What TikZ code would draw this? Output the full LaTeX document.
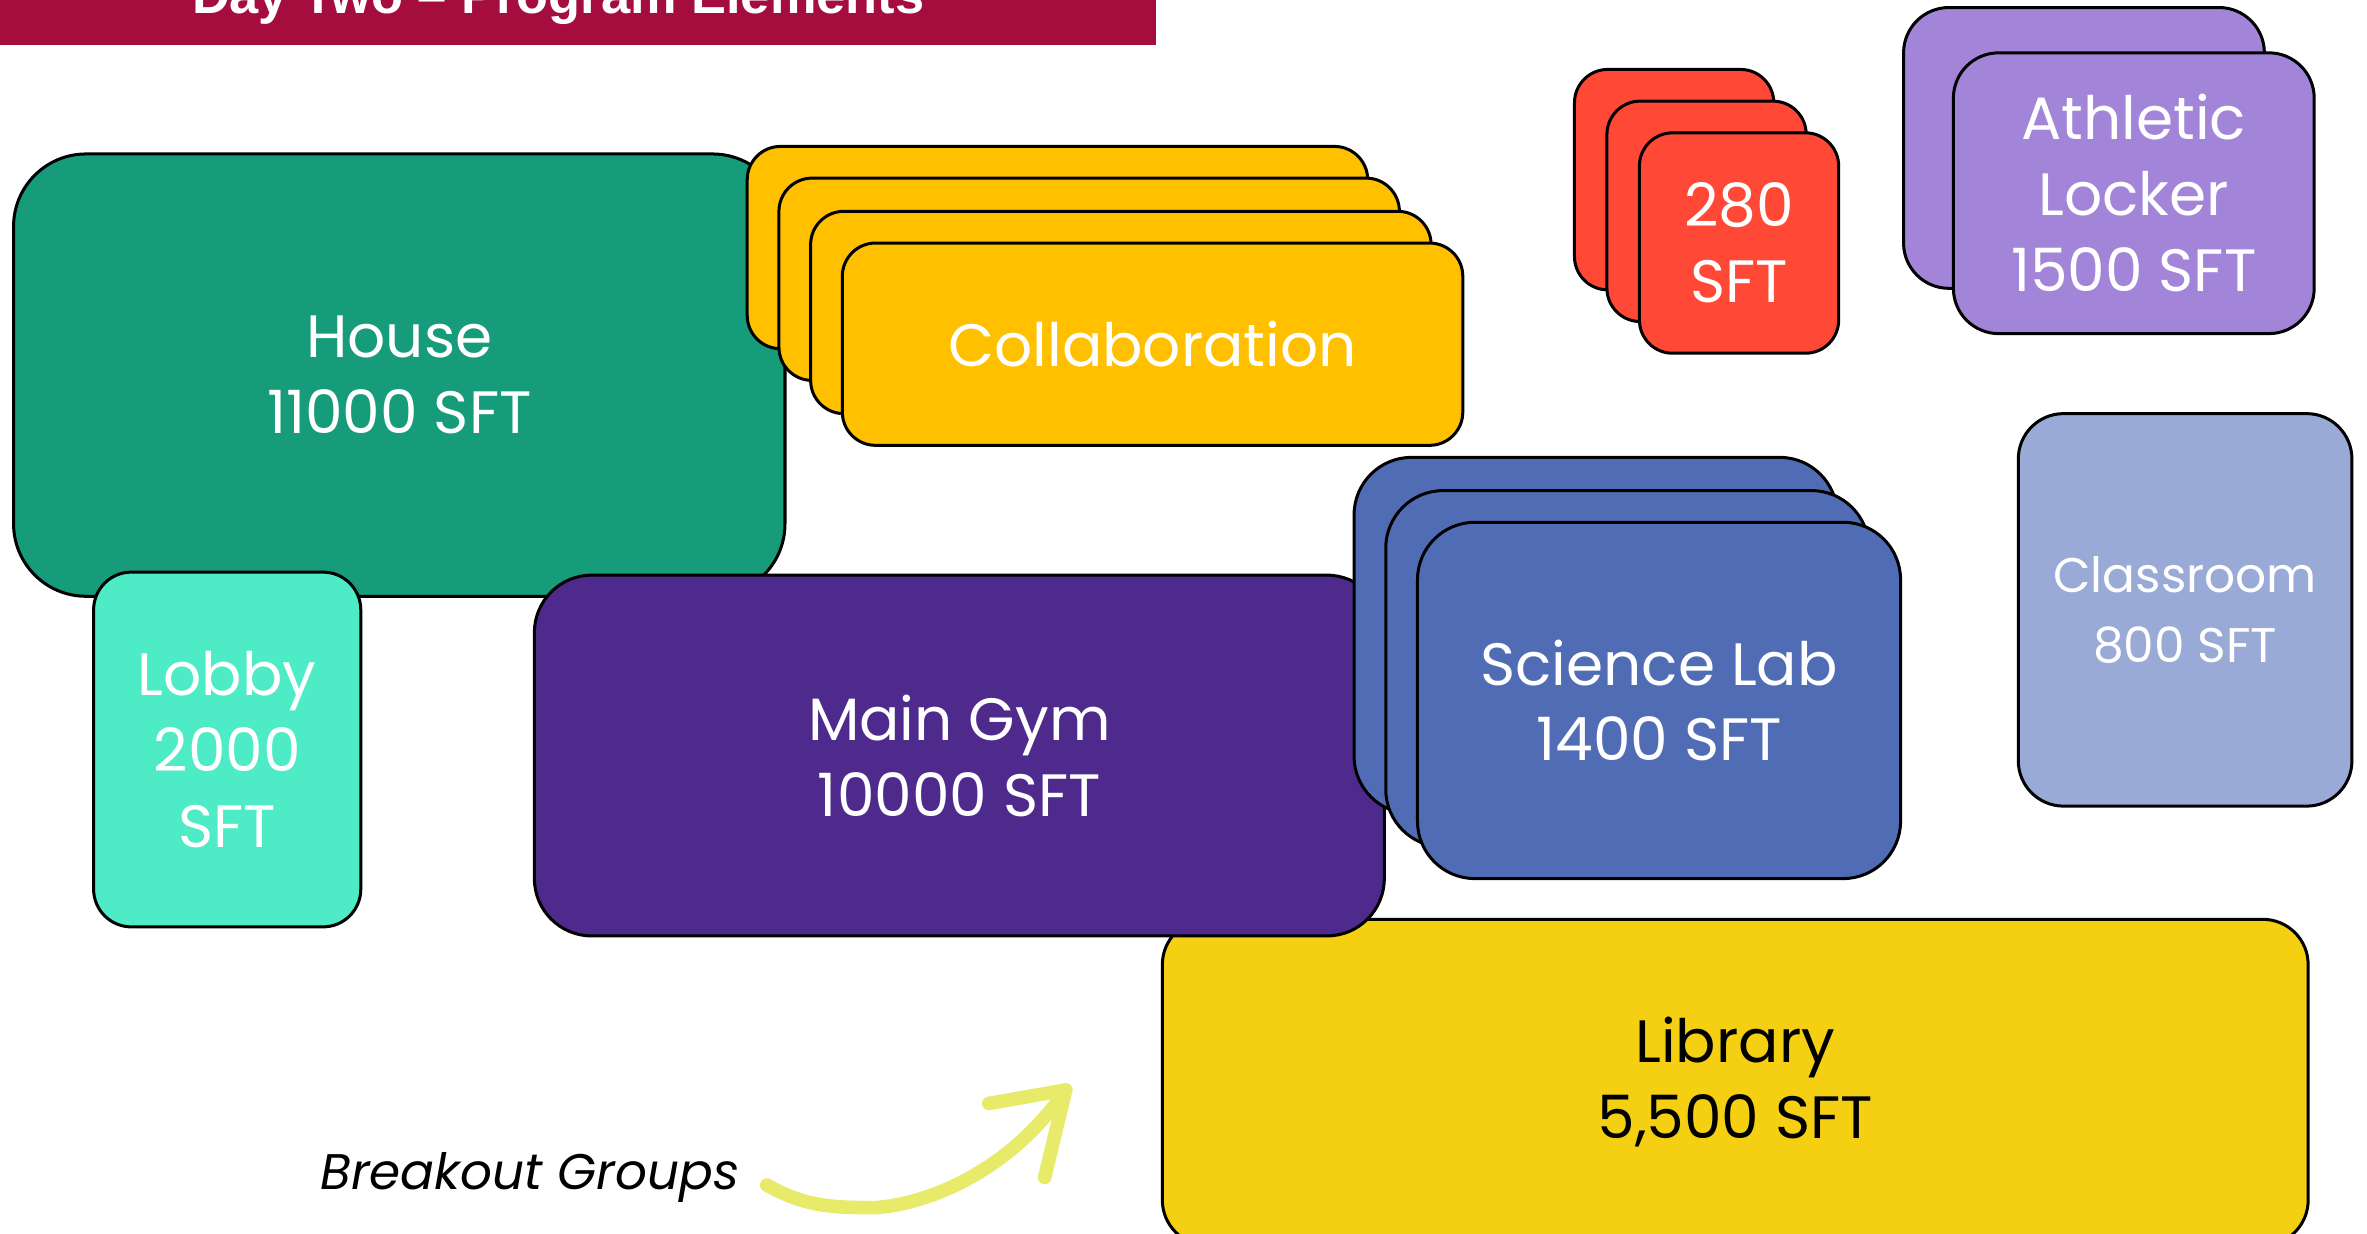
\documentclass[tikz,border=0pt]{standalone}
\usepackage{fontspec}
\setmainfont{Poppins}
\newfontfamily\titlefont{Liberation Sans}
\usetikzlibrary{calc}

\definecolor{housegreen}{HTML}{169B7B}
\definecolor{collabyellow}{HTML}{FFC000}
\definecolor{lobbyaqua}{HTML}{4DEBC6}
\definecolor{gympurple}{HTML}{4D2A8C}
\definecolor{labblue}{HTML}{4F6CB5}
\definecolor{storered}{HTML}{FF4936}
\definecolor{lockerlilac}{HTML}{A285D9}
\definecolor{classblue}{HTML}{99AAD6}
\definecolor{libyellow}{HTML}{F5CF12}
\definecolor{titlered}{HTML}{A50D3F}
\definecolor{brushyellow}{HTML}{E8EA6A}

\tikzset{>=latex}

\begin{document}
\begin{tikzpicture}[x=0.03cm, y=-0.03cm]
	\tikzstyle{room} = [draw=black, line width=1.7pt, align=center, text=white, inner sep=0pt,
		font=\fontsize{33.8}{42.9}\selectfont]
	\tikzstyle{room_house} = [room, fill=housegreen, minimum width=15.33cm, minimum height=8.79cm, rounded corners=1.44cm]
	\tikzstyle{room_collab} = [room, fill=collabyellow, minimum width=12.33cm, minimum height=4.02cm, rounded corners=0.66cm]
	\tikzstyle{room_lobby} = [room, fill=lobbyaqua, minimum width=5.31cm, minimum height=7.05cm, rounded corners=0.75cm]
	\tikzstyle{room_gym} = [room, fill=gympurple, minimum width=16.89cm, minimum height=7.17cm, rounded corners=1.14cm]
	\tikzstyle{room_lab} = [room, fill=labblue, minimum width=9.6cm, minimum height=7.08cm, rounded corners=1.14cm]
	\tikzstyle{room_small} = [room, fill=storered, minimum width=3.96cm, minimum height=4.38cm, rounded corners=0.66cm]
	\tikzstyle{room_locker} = [room, fill=lockerlilac, minimum width=7.17cm, minimum height=5.58cm, rounded corners=0.9cm]
	\tikzstyle{room_class} = [room, fill=classblue, minimum width=6.63cm, minimum height=7.8cm, rounded corners=0.9cm,
		font=\fontsize{27.5}{39.3}\selectfont]
	\tikzstyle{room_lib} = [room, fill=libyellow, text=black, minimum width=22.77cm, minimum height=6.48cm, rounded corners=0.9cm]
	\tikzstyle{brush} = [draw=brushyellow, line width=0.27cm, line cap=round, line join=round]

	\useasboundingbox (0,0) rectangle (1568,817);
	\clip (0,0) rectangle (1568,817);

%----------Title bar------------------------------
	\fill[titlered] (0,-40) rectangle (766,30);
	\node[anchor=base west, inner sep=0pt, text=white, font=\titlefont\bfseries\fontsize{29.6}{34}\selectfont]
		(title) at (127,8.8) {Day Two – Program Elements};

%----------House, collaboration, lobby------------------------------
	\node[room_house] (house) at (264.5,248.5) {House\\11000 SFT};

	\node[room_collab] (collab1) at (700.5,164) {};
	\node[room_collab] (collab2) at (721.5,185) {};
	\node[room_collab] (collab3) at (742.5,207) {};
	\node[room_collab] (collab) at (763.5,228) {Collaboration};

	\node[room_lobby] (lobby) at (150.5,496.5) {Lobby\\2000\\SFT};

%----------Library, gym, science lab------------------------------
	\node[room_lib] (library) at (1149.5,717) {Library\\5,500 SFT};

	\node[room_gym] (gym) at (635.5,500.5) {Main Gym\\10000 SFT};

	\node[room_lab] (lab1) at (1057,421) {};
	\node[room_lab] (lab2) at (1078,443) {};
	\node[room_lab] (lab) at (1099,464) {Science Lab\\1400 SFT};

%----------Right column------------------------------
	\node[room_small] (small1) at (1109,119) {};
	\node[room_small] (small2) at (1130.5,140) {};
	\node[room_small] (small) at (1152,161) {280\\SFT};

	\node[room_locker] (locker1) at (1380.5,98) {};
	\node[room_locker] (locker) at (1413.5,128) {Athletic\\Locker\\1500 SFT};

	\node[room_class] (class) at (1447.5,404) {Classroom\\800 SFT};

%----------Breakout groups------------------------------
	\node[anchor=base west, inner sep=0pt, font=\itshape\fontsize{28.3}{34}\selectfont] (brk) at (212,788) {Breakout Groups};
	\coordinate (brk_tip) at (706,722);

	\draw[brush] ($(brk.base east)+(18,-3)$) .. controls +(25,14) and +(-30,0) .. (580,800)
		.. controls (620,797) and (672,772) .. (brk_tip);
	\draw[brush] ($(brk_tip)+(-51,9)$) -- (brk_tip) -- ++(-14,58);

\end{tikzpicture}
\end{document}
